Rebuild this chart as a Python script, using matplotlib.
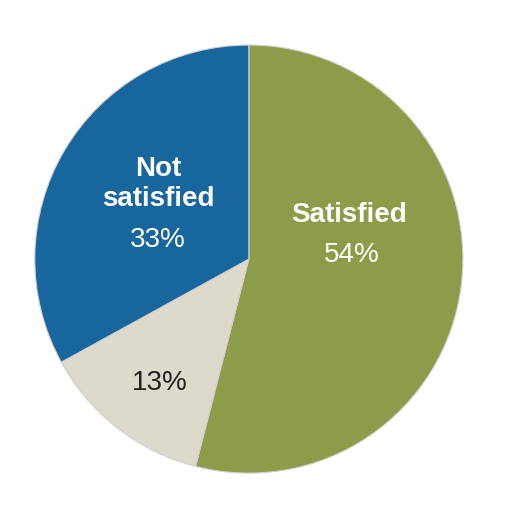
import matplotlib.pyplot as plt

labels = ["Satisfied", "", "Not\nsatisfied"]
values = [54, 13, 33]
colors = ["#8d9c48", "#dddacb", "#17669d"]
textColors = ["white", "#222222", "white"]
# label / percent centre positions (data coords, unit radius)
labelPos = [(0.467, 0.206), None, (-0.425, 0.35)]
pctPos = [(0.481, 0.019), (-0.416, -0.579), (-0.425, 0.089)]

plt.rcParams['font.family'] = ['Liberation Sans', 'DejaVu Sans']

fig = plt.figure(figsize=(5.12, 5.12), dpi=100)
ax = fig.add_axes([0.068, 0.076, 0.836, 0.836])
ax.pie(values, colors=colors, startangle=90, counterclock=False, radius=1,
       wedgeprops={'edgecolor': '#cfcfcf', 'linewidth': 0.8})

for lab, val, lp, pp, c in zip(labels, values, labelPos, pctPos, textColors):
    if lab:
        ax.text(lp[0], lp[1], lab, ha='center', va='center', fontsize=20,
                fontweight='bold', color=c, linespacing=1.22)
    ax.text(pp[0], pp[1], f"{val}%", ha='center', va='center', fontsize=20, color=c)

ax.set_xlim(-1, 1)
ax.set_ylim(-1, 1)
ax.set_aspect('equal')
ax.axis('off')

plt.savefig("out.png", dpi=100)
